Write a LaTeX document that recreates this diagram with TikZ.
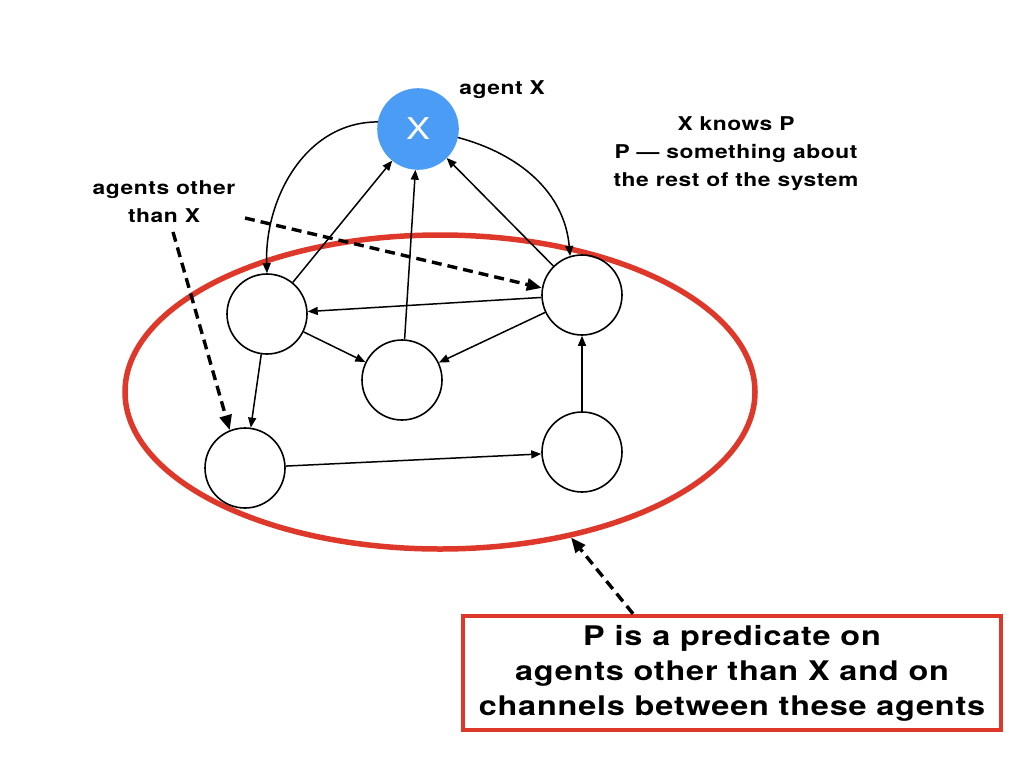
\documentclass[tikz,border=0pt]{standalone}
\usepackage{fontspec}
\setmainfont{TeX Gyre Heros}[FakeStretch=1.2, LetterSpace=3]
\usepackage{tikz}
\usetikzlibrary{arrows.meta, positioning, shapes.geometric}
\usepackage{xcolor}
\definecolor{xblue}{RGB}{74,156,244}
\definecolor{xred}{RGB}{222,56,43}

\begin{document}
\begin{tikzpicture}[
  x=1pt, y=-1pt,
  agent/.style={draw, circle, line width=1.6pt, minimum size=80pt, inner sep=0pt},
  arr/.style={-{Triangle[length=10pt,width=8pt]}, line width=1.5pt},
  dasharr/.style={-{Triangle[length=15pt,width=12pt]}, line width=3.4pt, dash pattern=on 10pt off 6pt},
  lbl/.style={font=\fontsize{19pt}{28pt}\selectfont\bfseries, align=center}
]
  \useasboundingbox (0,0) rectangle (1024,768);
  % the rest of the system
  \node[ellipse, draw=xred, line width=5.5pt, minimum width=630pt, minimum height=314pt, inner sep=0pt] (group) at (440,392) {};
  \node[agent, fill=xblue, draw=xblue, text=white, font=\fontsize{30pt}{30pt}\selectfont] (ax) at (418,129) {X};
  \node[agent] (a) at (267,314) {};
  \node[agent] (c) at (402,380) {};
  \node[agent] (b) at (582,295) {};
  \node[agent] (d) at (245,468) {};
  \node[agent] (e) at (582,452) {};
  % labels
  \node[lbl] (axlbl) at (502,90) {agent X};
  \node[lbl] (knows) at (736,154) {X knows P\\P — something about\\the rest of the system};
  \node[lbl] (others) at (164,202) {agents other\\than X};
  \node[draw=xred, line width=4.5pt, minimum width=538pt, minimum height=114pt, align=center,
        font=\fontsize{27pt}{35pt}\selectfont\bfseries] (pred) at (732,673)
        {P is a predicate on\\agents other than X and on\\channels between these agents};
  \coordinate (o1) at (173,232);
  \coordinate (o2) at (245,218);
  % channels
  \draw[arr] (ax.170) to[out=180, in=92] (a.north);
  \draw[arr] (ax.-12) to[out=-15, in=95] (b.107);
  \draw[arr] (a) -- (ax);
  \draw[arr] (c) -- (ax);
  \draw[arr] (b) -- (ax);
  \draw[arr] (b) -- (a);
  \draw[arr] (a) -- (c);
  \draw[arr] (b) -- (c);
  \draw[arr] (a) -- (d);
  \draw[arr] (d) -- (e);
  \draw[arr] (e) -- (b);
  % pointers
  \draw[dasharr] (o1) -- (d.112);
  \draw[dasharr] (o2) -- (b.170);
  \draw[dasharr] ([xshift=-99pt]pred.north) -- (group.-48);
\end{tikzpicture}
\end{document}
